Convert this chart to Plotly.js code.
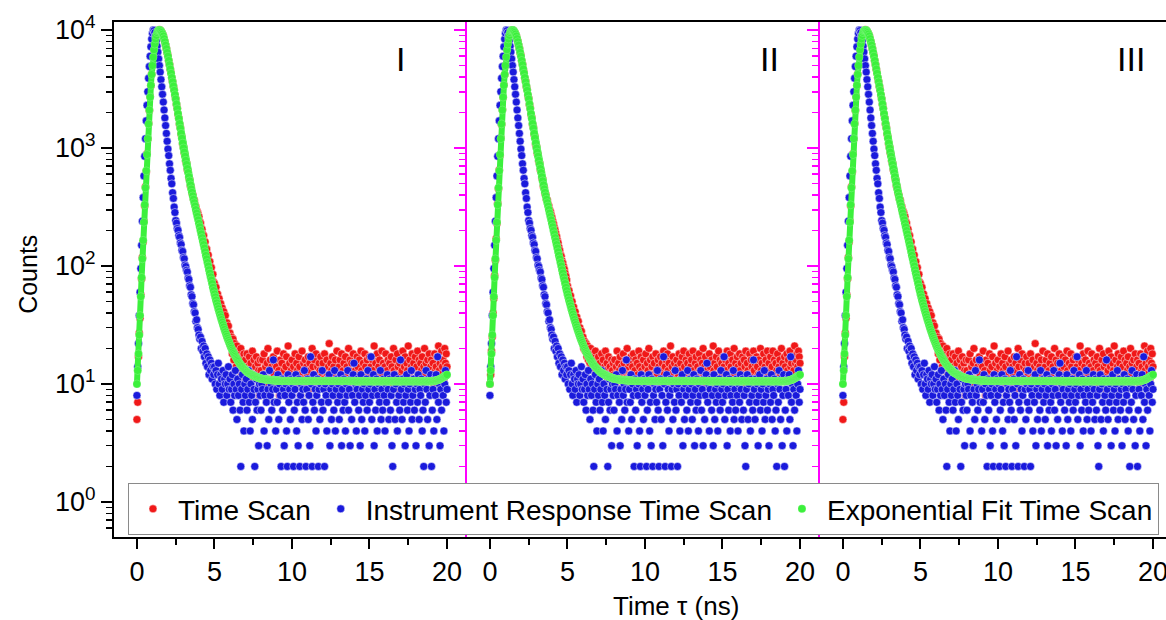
<!DOCTYPE html>
<html><head><meta charset="utf-8">
<script src="https://cdn.plot.ly/plotly-3.0.1.min.js"></script>
<style>html,body{margin:0;padding:0;overflow:hidden;background:#fff}#chart{width:1180px;height:620px}</style>
</head><body><div id="chart"></div>
<script>
// channel start and channel width (ns)
const T0 = 0, DT = 0.05;
const panelNames = ['I', 'II', 'III'];
const seriesNames = ['Time Scan', 'Instrument Response Time Scan', 'Exponential Fit Time Scan'];
const xTickVals = [0, 5, 10, 15, 20];
const yTickVals = [1, 10, 100, 1000, 10000];
const yTickText = ['10<sup>0</sup>', '10<sup>1</sup>', '10<sup>2</sup>', '10<sup>3</sup>', '10<sup>4</sup>'];

// Instrument response (same in all panels)
const irf = [
8,14,22,38,60,95,150,240,380,580,850,1200,1700,2300,3000,3900,4900,6000,7200,8400,
9400,10000,9900,9500,8900,8100,7300,6500,5700,5000,4400,3800,3300,2850,2450,2100,1800,1550,1330,1140,
980,862,735,648,553,497,418,374,316,284,243,231,208,201,181,175,157,152,136,133,
118,115,102,99,92,89,79,77,68,66,57,55,48,47,41,40,34,35,30,29,
26,24,25,20,23,19,21,17,20,15,18,14,17,12,16,13,15,11,14,12,
14,10,13,9,12,15,10,8,12,11,9,13,7,11,10,12,8,10,14,9,
11,7,9,12,6,10,8,13,9,5,11,8,10,6,2,9,12,7,4,10,
8,11,6,9,13,7,4,10,8,5,12,9,2,7,11,6,9,3,10,8,
6,10,9,12,4,8,11,7,3,9,5,13,8,10,6,9,16,7,11,4,
9,7,12,5,10,8,2,11,6,9,3,8,10,4,2,12,7,9,5,11,
8,10,2,6,9,12,4,7,3,11,2,8,10,5,9,7,13,6,2,9,
11,5,8,3,17,10,2,7,12,6,9,4,8,11,2,9,5,10,7,13,
6,9,2,10,8,4,11,7,12,3,9,5,10,8,6,13,4,9,11,7,
10,5,8,12,3,9,6,11,7,4,10,8,13,6,9,3,11,5,8,12,
15,7,10,4,9,11,6,8,3,12,5,9,7,10,4,8,11,6,13,9,
7,10,17,5,8,12,3,9,6,11,4,8,10,7,13,5,9,6,11,8,
4,10,7,12,9,5,11,6,8,3,2,9,12,5,10,7,4,11,8,6,
16,9,5,11,7,10,3,8,12,6,9,4,10,7,13,5,8,11,6,9,
3,10,7,12,5,9,8,11,4,6,2,10,7,13,9,5,11,3,8,12,
2,6,9,4,11,8,12,5,17,7,10,3,9,6,11,8,4,10,13,7,
9];

// Time scan, panel I (panel III reads the same)
const scanI = [
5,7,17,27,36,57,78,118,160,240,322,470,625,895,1190,1620,2080,2730,3370,4240,
4980,5930,6760,7650,8370,9050,9460,9850,9930,10050,9900,9760,9510,9220,8930,8400,7990,7420,6980,6420,
6050,5480,5110,4640,4330,3920,3670,3320,3110,2810,2620,2340,2170,1930,1800,1590,1490,1310,1230,1080,
1020,905,870,772,741,655,632,560,541,476,462,418,402,371,360,330,318,296,288,275,
262,238,231,210,205,186,181,162,160,141,139,122,124,108,109,96,97,84,85,73,
71,62,66,52,58,47,53,42,48,37,44,35,41,30,38,28,33,25,31,24,
27,21,25,18,24,16,22,19,14,21,17,13,19,15,20,12,17,14,18,11,
16,12,18,14,10,17,13,15,11,19,12,16,9,14,17,11,15,13,8,16,
13,9,16,12,18,10,14,11,15,20,8,13,16,11,14,9,17,12,15,10,
14,19,11,13,8,16,12,15,10,18,13,9,14,17,11,21,12,15,10,13,
16,11,14,9,18,12,15,13,10,17,14,8,12,19,11,15,13,16,10,14,
12,17,9,15,13,11,20,14,10,16,12,18,11,14,9,15,13,17,10,12,
15,11,18,13,9,16,12,14,22,10,15,13,17,11,14,8,16,12,19,13,
10,14,16,12,18,11,13,15,9,17,12,14,10,20,13,16,11,15,12,18,
11,15,13,9,17,14,12,16,10,19,13,11,15,12,18,14,9,16,13,11,
17,12,14,10,16,13,21,11,15,12,18,9,14,16,11,13,19,12,15,10,
14,18,11,13,16,9,15,12,17,14,10,20,13,11,16,12,18,14,9,15,
12,16,13,19,11,14,17,10,15,13,21,12,16,11,14,18,9,15,13,17,
11,14,19,12,16,10,15,13,17,11,14,20,12,15,9,16,13,18,11,14,
16,12,15,10,18,13,14,17,11,21,13,15,12,19,14,16,11,20,15,18,
14];

// Time scan, panel II
const scanII = [
10,12,19,25,40,53,83,112,170,229,338,452,652,870,1215,1585,2120,2680,3420,4180,
5030,5870,6830,7580,8440,8960,9540,9780,9990,9970,9930,9680,9580,9190,8950,8380,8030,7380,7020,6390,
6080,5450,5130,4610,4350,3900,3690,3300,3130,2790,2640,2330,2180,1920,1810,1580,1500,1300,1240,1070,
1030,900,875,768,745,651,636,556,545,472,466,412,405,367,362,333,322,300,290,272,
258,241,228,213,202,189,178,165,157,144,136,125,121,111,106,99,94,87,82,76,
68,63,62,54,56,49,50,44,45,39,41,36,37,32,34,29,30,26,28,24,
25,20,23,19,22,17,21,16,19,15,20,14,18,13,17,15,19,12,16,14,
17,11,15,13,18,12,16,10,14,19,13,15,11,17,12,14,9,16,13,15,
12,16,10,14,19,11,15,13,17,9,14,12,18,15,11,16,13,20,10,14,
15,12,17,10,14,18,11,13,16,9,15,12,19,14,11,17,13,10,16,12,
14,18,11,15,13,20,10,16,12,14,17,11,15,9,18,13,12,16,14,10,
17,13,15,11,19,12,14,16,10,18,13,15,11,21,12,14,17,10,15,13,
11,16,14,12,18,10,15,13,17,11,19,14,12,16,9,15,13,18,11,14,
16,12,19,13,11,15,17,10,14,12,18,13,16,11,15,20,12,14,17,10,
13,15,11,18,14,12,16,10,21,13,15,11,17,14,12,19,10,16,13,15,
12,17,14,10,16,13,19,11,15,12,18,14,10,16,13,20,12,15,11,17,
14,11,18,13,15,10,17,12,16,14,19,11,15,13,12,18,10,16,14,12,
19,13,15,11,17,14,12,16,10,20,13,15,12,18,11,14,16,13,19,12,
15,11,17,13,14,19,12,16,10,15,13,18,11,14,16,12,20,13,15,11,
17,14,12,18,13,16,11,19,14,15,12,17,13,21,15,16,18,14,19,17,
15];
const scanIII = scanI;

// Exponential fit (same in all panels)
const fit = [
10,13,18,26,38,55,80,115,165,235,330,460,640,880,1200,1600,2100,2700,3400,4200,
5000,5900,6800,7600,8400,9000,9500,9800,9950,10000,9950,9800,9550,9250,8900,8450,7950,7450,6950,6450,
6000,5520,5080,4670,4300,3950,3640,3350,3080,2830,2600,2360,2150,1950,1780,1610,1470,1330,1210,1100,
1000,923,852,787,726,670,619,571,527,487,450,421,393,368,344,322,301,281,263,246,
230,215,200,187,174,163,152,142,132,123,115,107,100,93,87,81,76,71,66,62,
58,54.7,51.6,48.7,46,43.5,41.2,39.1,37.1,35.2,33.5,31.9,30.4,29,27.7,26.5,25.4,24.3,23.4,22.5,
21.6,20.8,20.1,19.4,18.8,18.2,17.7,17.2,16.7,16.3,15.9,15.5,15.1,14.8,14.5,14.2,14,13.7,13.5,13.3,
13.1,12.9,12.7,12.6,12.4,12.3,12.2,12.1,12,11.9,11.8,11.7,11.6,11.5,11.45,11.4,11.33,11.27,11.2,11.17,
11.1,11.07,11.03,11,10.97,10.94,10.92,10.9,10.88,10.86,10.84,10.82,10.8,10.78,10.77,10.75,10.74,10.72,10.71,10.7,
10.69,10.68,10.67,10.66,10.65,10.64,10.63,10.62,10.62,10.61,10.6,10.6,10.6,10.6,10.6,10.6,10.6,10.6,10.6,10.6,
10.6,10.6,10.6,10.6,10.6,10.6,10.6,10.6,10.6,10.6,10.6,10.6,10.6,10.6,10.6,10.6,10.6,10.6,10.6,10.6,
10.6,10.6,10.6,10.6,10.6,10.6,10.6,10.6,10.6,10.6,10.6,10.6,10.6,10.6,10.6,10.6,10.6,10.6,10.6,10.6,
10.6,10.6,10.6,10.6,10.6,10.6,10.6,10.6,10.6,10.6,10.6,10.6,10.6,10.6,10.6,10.6,10.6,10.6,10.6,10.6,
10.6,10.6,10.6,10.6,10.6,10.6,10.6,10.6,10.6,10.6,10.6,10.6,10.6,10.6,10.6,10.6,10.6,10.6,10.6,10.6,
10.55,10.55,10.55,10.55,10.55,10.55,10.55,10.55,10.55,10.55,10.55,10.55,10.55,10.55,10.55,10.55,10.55,10.55,10.55,10.55,
10.55,10.55,10.55,10.55,10.55,10.55,10.55,10.55,10.55,10.55,10.55,10.55,10.55,10.55,10.55,10.55,10.55,10.55,10.55,10.55,
10.55,10.55,10.55,10.55,10.55,10.55,10.55,10.55,10.55,10.55,10.55,10.55,10.55,10.55,10.55,10.55,10.55,10.55,10.55,10.55,
10.55,10.55,10.55,10.55,10.55,10.55,10.55,10.55,10.55,10.55,10.55,10.55,10.55,10.55,10.55,10.55,10.55,10.55,10.55,10.55,
10.55,10.55,10.55,10.55,10.55,10.55,10.55,10.55,10.55,10.55,10.55,10.55,10.55,10.55,10.55,10.55,10.55,10.55,10.55,10.55,
10.55,10.56,10.58,10.6,10.63,10.66,10.7,10.75,10.8,10.86,10.92,11,11.08,11.17,11.27,11.38,11.5,11.62,11.75,11.88,
12];

const scans = [scanI, scanII, scanIII];
const RED = '#f01818', BLUE = '#1a1adc', GREEN = '#3cf03c', MAGENTA = '#ff00ff';
const FONT = '"Liberation Sans", Arial, sans-serif';

const traces = [];
for (let p = 0; p < 3; p++) {
  const xa = p === 0 ? 'x' : 'x' + (p + 1);
  const ya = p === 0 ? 'y' : 'y' + (p + 1);
  const first = p === 0;
  traces.push({type: 'scatter', mode: 'markers', name: seriesNames[0], legendgroup: 'a', showlegend: first,
    x0: T0, dx: DT, y: scans[p], xaxis: xa, yaxis: ya,
    marker: {color: RED, size: 8, line: {color: 'rgba(255,255,255,0.8)', width: 0.6}}});
  traces.push({type: 'scatter', mode: 'markers', name: seriesNames[1], legendgroup: 'b', showlegend: first,
    x0: T0, dx: DT, y: irf, xaxis: xa, yaxis: ya,
    marker: {color: BLUE, size: 8, line: {color: 'rgba(255,255,255,0.8)', width: 0.6}}});
  traces.push({type: 'scatter', mode: 'lines', name: seriesNames[2], legendgroup: 'c', showlegend: false,
    x0: T0, dx: DT, y: fit, xaxis: xa, yaxis: ya, hoverinfo: 'skip',
    line: {color: GREEN, width: 6}});
  traces.push({type: 'scatter', mode: 'markers', name: seriesNames[2], legendgroup: 'c', showlegend: first,
    x0: T0, dx: DT, y: fit, xaxis: xa, yaxis: ya,
    marker: {color: GREEN, size: 8, line: {color: 'rgba(255,255,255,0.35)', width: 0.5}}});
}

function xAxis(dom) {
  return {domain: dom, range: [-1.48, 21.29], tickmode: 'array', tickvals: xTickVals,
    ticks: 'outside', ticklen: 10, tickwidth: 2, tickcolor: '#000',
    minor: {ticks: 'outside', ticklen: 6, tickwidth: 2, tickcolor: '#000', tickmode: 'linear', tick0: 0, dtick: 2.5, showgrid: false},
    showline: true, linewidth: 2, linecolor: '#000', mirror: true,
    showgrid: false, zeroline: false, tickfont: {size: 27, color: '#000', family: FONT}, fixedrange: true};
}
function yAxis(anchor, color, labels) {
  return {anchor: anchor, type: 'log', range: [-0.297, 4.068], tickmode: 'array', tickvals: yTickVals, ticktext: yTickText,
    showticklabels: labels, ticks: 'outside', ticklen: 11, tickwidth: 2, tickcolor: color,
    minor: {ticks: 'outside', ticklen: 6, tickwidth: 1.6, tickcolor: color, tickmode: 'linear', dtick: 'D1', showgrid: false},
    showline: true, linewidth: 2, linecolor: color, showgrid: false, zeroline: false,
    tickfont: {size: 27, color: '#000', family: FONT}, fixedrange: true};
}

const layout = {
  width: 1180, height: 620,
  margin: {l: 114, r: 7, t: 22, b: 83, pad: 0},
  paper_bgcolor: '#fff', plot_bgcolor: '#fff',
  font: {family: FONT, color: '#000'},
  showlegend: true,
  xaxis: Object.assign(xAxis([0, 1/3]), {anchor: 'y'}),
  xaxis2: Object.assign(xAxis([1/3, 2/3]), {anchor: 'y2'}),
  xaxis3: Object.assign(xAxis([2/3, 1]), {anchor: 'y3'}),
  yaxis: yAxis('x', '#000', true),
  yaxis2: Object.assign(yAxis('x2', MAGENTA, false), {matches: 'y'}),
  yaxis3: Object.assign(yAxis('x3', MAGENTA, false), {matches: 'y'}),
  legend: {orientation: 'h', x: 0.0132, xanchor: 'left', y: 0.105, yanchor: 'top',
    bgcolor: '#fff', bordercolor: '#8a8a8a', borderwidth: 1.2, itemwidth: 40,
    font: {size: 28, family: FONT, color: '#000'}, tracegroupgap: 0},
  annotations: [
    {text: 'Counts', xref: 'paper', yref: 'paper', x: -0.0812, y: 0.509, textangle: -90, showarrow: false,
      xanchor: 'center', yanchor: 'middle', font: {size: 25, family: FONT}},
    {text: 'Time \u03c4 (ns)', xref: 'paper', yref: 'paper', x: 0.5307, y: -0.134, showarrow: false,
      xanchor: 'center', yanchor: 'middle', font: {size: 26, family: FONT}},
    {text: panelNames[0], xref: 'x', yref: 'paper', x: 17.0, y: 0.928, showarrow: false, xanchor: 'center', yanchor: 'middle', font: {size: 34, family: FONT}},
    {text: panelNames[1], xref: 'x2', yref: 'paper', x: 18.06, y: 0.928, showarrow: false, xanchor: 'center', yanchor: 'middle', font: {size: 34, family: FONT}},
    {text: panelNames[2], xref: 'x3', yref: 'paper', x: 18.55, y: 0.928, showarrow: false, xanchor: 'center', yanchor: 'middle', font: {size: 34, family: FONT}}
  ]
};

Plotly.newPlot('chart', traces, layout, {displayModeBar: false, staticPlot: true});
</script>
</body></html>
